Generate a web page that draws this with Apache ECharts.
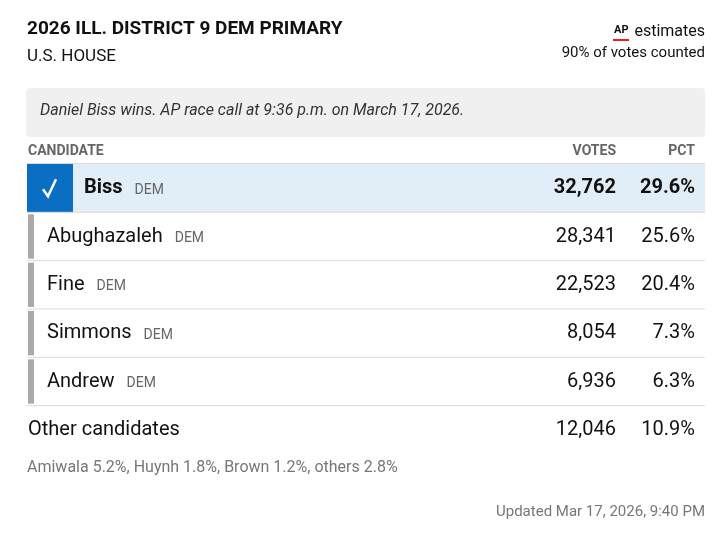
<!DOCTYPE html>
<html>
<head>
<meta charset="utf-8">
<script src="https://cdn.jsdelivr.net/npm/echarts@6/dist/echarts.min.js"></script>
<style>body{margin:0;background:#fff}#main{width:726px;height:536px}</style>
</head>
<body>
<div id="main"></div>
<script>
var FONT = 'Roboto, sans-serif';
var candidates = ['Biss', 'Abughazaleh', 'Fine', 'Simmons', 'Andrew', 'Other candidates'];
var parties = ['DEM', 'DEM', 'DEM', 'DEM', 'DEM', ''];
var votes = [32762, 28341, 22523, 8054, 6936, 12046];
var pcts = [29.6, 25.6, 20.4, 7.3, 6.3, 10.9];
var winner = 0;

var chart = echarts.init(document.getElementById('main'));

var ctx = document.createElement('canvas').getContext('2d');
function measure(t, f) { ctx.font = f; return ctx.measureText(t).width; }

//每一行的绘制
function renderRow(params, api) {
	var i = api.value(0);
	var c = api.coord([0, i]);
	var h = api.size([0, 1])[1];
	var cs = params.coordSys;
	var top = c[1] - h / 2, mid = c[1];
	var x0 = cs.x, x1 = cs.x + cs.width;
	var kids = [];
	var isOther = i == candidates.length - 1;
	if (i == winner) {
		kids.push({type: 'rect', shape: {x: x0, y: top, width: cs.width, height: h}, style: {fill: '#e1eef8'}});
		kids.push({type: 'rect', shape: {x: x0, y: top, width: 46, height: h}, style: {fill: '#0a6fc3'}});
		kids.push({type: 'polyline', shape: {points: [[x0 + 16, mid + 1], [x0 + 21, mid + 8], [x0 + 29, mid - 9]]}, style: {stroke: '#fff', lineWidth: 2.5, fill: null}});
	} else if (!isOther) {
		kids.push({type: 'rect', shape: {x: x0 + 1, y: top + 2, width: 6, height: h - 4}, style: {fill: '#aaaaaa'}});
	}
	var nameX = i == winner ? x0 + 57 : (isOther ? x0 + 1 : x0 + 20);
	var bold = i == winner ? 'bold' : 'normal';
	var f = bold + ' 20px ' + FONT;
	kids.push({type: 'text', x: nameX, y: mid, style: {text: candidates[i], font: f, fill: '#111', verticalAlign: 'middle'}});
	if (parties[i]) {
		var tw = measure(candidates[i], f);
		kids.push({type: 'text', x: nameX + tw + 12, y: mid + 2, style: {text: parties[i], font: '14px ' + FONT, fill: '#666', verticalAlign: 'middle'}});
	}
	kids.push({type: 'text', x: x0 + 589, y: mid, style: {text: votes[i].toLocaleString('en-US'), font: f, fill: '#111', align: 'right', verticalAlign: 'middle'}});
	kids.push({type: 'text', x: x1 - 10, y: mid, style: {text: pcts[i].toFixed(1) + '%', font: f, fill: '#111', align: 'right', verticalAlign: 'middle'}});
	if (!isOther) {
		kids.push({type: 'line', shape: {x1: x0, y1: top + h, x2: x1, y2: top + h}, style: {stroke: '#dcdcdc', lineWidth: 1}});
	}
	return {type: 'group', children: kids};
}

var option = {
	animation: false,
	grid: {left: 27, right: 21, top: 164, bottom: 82},
	xAxis: {type: 'value', min: 0, max: 1, show: false},
	yAxis: {type: 'category', data: candidates, inverse: true, show: false},
	series: [{
		type: 'custom',
		renderItem: renderRow,
		data: candidates.map(function (n, i) { return [i]; }),
		encode: {y: 0}
	}],
	graphic: [
		{type: 'text', x: 27, y: 20, style: {text: '2026 ILL. DISTRICT 9 DEM PRIMARY', font: 'bold 19px ' + FONT, fill: '#111'}},
		{type: 'text', x: 27, y: 48, style: {text: 'U.S. HOUSE', font: '17px ' + FONT, fill: '#111'}},
		{type: 'text', x: 705, y: 24, style: {text: 'estimates', font: '16px ' + FONT, fill: '#111', align: 'right'}},
		{type: 'text', x: 614, y: 25, style: {text: 'AP', font: 'bold 11px ' + FONT, fill: '#111'}},
		{type: 'rect', shape: {x: 613, y: 39, width: 16, height: 2}, style: {fill: '#e8202a'}},
		{type: 'text', x: 705, y: 46, style: {text: '90% of votes counted', font: '15px ' + FONT, fill: '#111', align: 'right'}},
		{type: 'rect', shape: {x: 26, y: 88, width: 679, height: 49, r: 4}, style: {fill: '#f0f0f0'}},
		{type: 'text', x: 40, y: 103, style: {text: 'Daniel Biss wins. AP race call at 9:36 p.m. on March 17, 2026.', font: 'italic 16px ' + FONT, fill: '#333'}},
		{type: 'text', x: 28, y: 144, style: {text: 'CANDIDATE', font: 'bold 14px ' + FONT, fill: '#666'}},
		{type: 'text', x: 616, y: 144, style: {text: 'VOTES', font: 'bold 14px ' + FONT, fill: '#666', align: 'right'}},
		{type: 'text', x: 695, y: 144, style: {text: 'PCT', font: 'bold 14px ' + FONT, fill: '#666', align: 'right'}},
		{type: 'rect', shape: {x: 27, y: 163, width: 678, height: 1}, style: {fill: '#dcdcdc'}},
		{type: 'text', x: 27, y: 460, style: {text: 'Amiwala 5.2%, Huynh 1.8%, Brown 1.2%, others 2.8%', font: '16px ' + FONT, fill: '#777'}},
		{type: 'text', x: 705, y: 505, style: {text: 'Updated Mar 17, 2026, 9:40 PM', font: '15px ' + FONT, fill: '#777', align: 'right'}}
	]
};
chart.setOption(option);
</script>
</body>
</html>
